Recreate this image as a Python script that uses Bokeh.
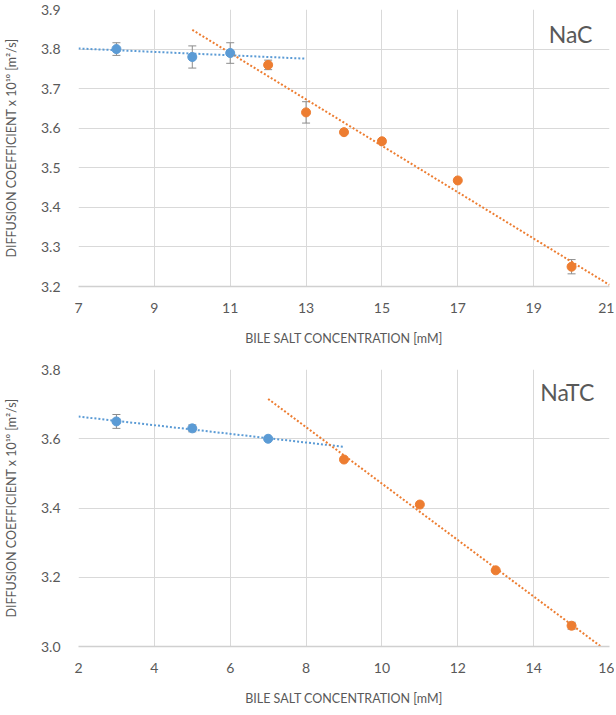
import numpy as np
from bokeh.plotting import figure
from bokeh.layouts import column
from bokeh.models import (ColumnDataSource, Whisker, TeeHead, Range1d, FixedTicker,
                          NumeralTickFormatter, Label)
from bokeh.embed import file_html
from bokeh.resources import INLINE

# ---------------- data ----------------
# NaC (top)
nac_pre_x = [8, 10, 11]
nac_pre_y = [3.80, 3.78, 3.79]
nac_pre_err = [0.016, 0.028, 0.026]
nac_post_x = [12, 13, 14, 15, 17, 20]
nac_post_y = [3.76, 3.64, 3.59, 3.567, 3.468, 3.25]
nac_post_err = [0.012, 0.027, 0.0, 0.006, 0.0, 0.018]
nac_pre_trend_span = [7, 13]
nac_post_trend_span = [10, 21]
nac_xticks = [7, 9, 11, 13, 15, 17, 19, 21]
nac_yticks = [3.2, 3.3, 3.4, 3.5, 3.6, 3.7, 3.8, 3.9]

# NaTC (bottom)
natc_pre_x = [3, 5, 7]
natc_pre_y = [3.65, 3.63, 3.60]
natc_pre_err = [0.02, 0.01, 0.004]
natc_post_x = [9, 11, 13, 15]
natc_post_y = [3.54, 3.41, 3.22, 3.06]
natc_post_err = [0.0, 0.0, 0.0, 0.01]
natc_pre_trend_span = [2, 9]
natc_post_trend_span = [7, 16]
natc_xticks = [2, 4, 6, 8, 10, 12, 14, 16]
natc_yticks = [3.0, 3.2, 3.4, 3.6, 3.8]

BLUE = "#5B9BD5"
ORANGE = "#ED7D31"
TEXT = "#595959"
GRID = "#d9d9d9"
ERR = "#8c8c8c"
FONT = "Lato"

XTITLE = "BILE SALT CONCENTRATION [mM]"
YTITLE = "DIFFUSION COEFFICIENT x 10\u00b9\u2070 [m\u00b2/s]"


def make_chart(pre_x, pre_y, pre_err, post_x, post_y, post_err,
               pre_span, post_span, xticks, yticks, name, name_xy,
               border_top, border_bottom):
    p = figure(frame_width=531, frame_height=277, output_backend="svg",
               toolbar_location=None,
               x_range=Range1d(xticks[0], xticks[-1]),
               y_range=Range1d(yticks[0], yticks[-1]),
               min_border_left=74, min_border_right=5,
               min_border_top=border_top, min_border_bottom=border_bottom)
    p.outline_line_color = None
    p.background_fill_color = "white"
    p.border_fill_color = "white"

    p.xaxis.ticker = FixedTicker(ticks=xticks)
    p.yaxis.ticker = FixedTicker(ticks=yticks)
    p.yaxis.formatter = NumeralTickFormatter(format="0.0")
    p.xgrid.ticker = FixedTicker(ticks=xticks)
    p.ygrid.ticker = FixedTicker(ticks=yticks)
    p.grid.grid_line_color = GRID
    p.grid.grid_line_width = 1

    for ax in (p.xaxis[0], p.yaxis[0]):
        ax.major_tick_line_color = None
        ax.minor_tick_line_color = None
        ax.major_label_text_font = FONT
        ax.major_label_text_font_size = "14px"
        ax.major_label_text_color = TEXT
        ax.axis_label_text_font = FONT
        ax.axis_label_text_font_size = "12.5px"
        ax.axis_label_text_font_style = "normal"
        ax.axis_label_text_color = TEXT
    p.xaxis.major_label_standoff = 10
    p.yaxis.major_label_standoff = 12
    p.xaxis.axis_line_color = "#d0d0d0"
    p.xaxis.axis_line_width = 1.5
    p.yaxis.axis_line_color = None
    p.xaxis.axis_label = XTITLE
    p.yaxis.axis_label = YTITLE
    p.xaxis.axis_label_standoff = 15
    p.yaxis.axis_label_standoff = 19

    # trend lines (least-squares fits of each series)
    for xs, ys, span, col in ((pre_x, pre_y, pre_span, BLUE),
                              (post_x, post_y, post_span, ORANGE)):
        k, b = np.polyfit(xs, ys, 1)
        tx = np.array(span, dtype=float)
        p.line(tx, k * tx + b, line_color=col, line_width=2,
               line_dash="2 2", line_cap="butt")

    # error bars and markers
    for xs, ys, es, col in ((pre_x, pre_y, pre_err, BLUE),
                            (post_x, post_y, post_err, ORANGE)):
        ya = np.array(ys)
        ea = np.array(es)
        src = ColumnDataSource(dict(x=xs, y=ys, upper=ya + ea, lower=ya - ea))
        w = Whisker(source=src, base="x", upper="upper", lower="lower",
                    line_color=ERR, line_width=1,
                    upper_head=TeeHead(size=8, line_color=ERR, line_width=1),
                    lower_head=TeeHead(size=8, line_color=ERR, line_width=1))
        p.add_layout(w)
        p.scatter("x", "y", source=src, size=9, fill_color=col, line_color=col)

    p.add_layout(Label(x=name_xy[0], y=name_xy[1], text=name, text_align="right",
                       text_baseline="middle", text_font=FONT, text_font_size="23px",
                       text_color=TEXT))
    return p


top = make_chart(nac_pre_x, nac_pre_y, nac_pre_err, nac_post_x, nac_post_y, nac_post_err,
                 nac_pre_trend_span, nac_post_trend_span, nac_xticks, nac_yticks,
                 "NaC", (20.55, 3.837), border_top=9, border_bottom=73)
bottom = make_chart(natc_pre_x, natc_pre_y, natc_pre_err, natc_post_x, natc_post_y,
                    natc_post_err, natc_pre_trend_span, natc_post_trend_span,
                    natc_xticks, natc_yticks, "NaTC", (15.6, 3.734),
                    border_top=10, border_bottom=60)

layout = column(top, bottom, spacing=0)
open("out.html", "w").write(file_html(layout, INLINE))
